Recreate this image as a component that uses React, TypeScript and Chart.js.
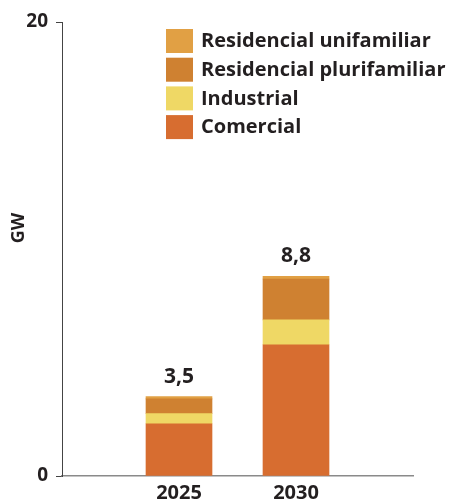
import React, { useEffect, useRef } from "react";
import { Chart, registerables } from "chart.js";

Chart.register(...registerables);

const years = ["2025", "2030"];
const comercial = [2.3, 5.78];
const industrial = [0.45, 1.1];
const plurifamiliar = [0.65, 1.8];
const unifamiliar = [0.1, 0.12];
const totalLabels = ["3,5", "8,8"];
const yTicks = [0, 20];
const yTitle = "GW";

const FONT = "'Open Sans', sans-serif";
const TEXT = "#231f20";

const seriesDefs = [
  { label: "Comercial", data: comercial, color: "#d76d30" },
  { label: "Industrial", data: industrial, color: "#efd865" },
  { label: "Residencial plurifamiliar", data: plurifamiliar, color: "#cf8131" },
  { label: "Residencial unifamiliar", data: unifamiliar, color: "#e1a044" },
];

const totalsPlugin = {
  id: "totals",
  afterDatasetsDraw(chart: any) {
    const ctx = chart.ctx;
    const last = chart.data.datasets.length - 1;
    const meta = chart.getDatasetMeta(last);
    ctx.save();
    ctx.font = `bold 21px ${FONT}`;
    ctx.fillStyle = TEXT;
    ctx.textAlign = "center";
    ctx.textBaseline = "alphabetic";
    meta.data.forEach((el: any, i: number) => {
      const lbl = totalLabels[i - 1];
      if (!lbl || el == null || isNaN(el.y)) return;
      ctx.fillText(lbl, el.x, el.y - 14);
    });
    ctx.restore();
  },
};

const legendPlugin = {
  id: "customLegend",
  afterDraw(chart: any) {
    const ctx = chart.ctx;
    const ds = [...chart.data.datasets].reverse();
    const x0 = 166;
    const y0 = 29;
    const step = 28.7;
    ctx.save();
    ctx.font = `bold 20px ${FONT}`;
    ctx.textBaseline = "middle";
    ctx.textAlign = "left";
    ds.forEach((d: any, i: number) => {
      const y = y0 + i * step;
      ctx.fillStyle = d.backgroundColor;
      ctx.fillRect(x0, y, 27, 24);
      ctx.fillStyle = TEXT;
      ctx.fillText(d.label, x0 + 35, y + 12.5);
    });
    // y-axis title
    ctx.save();
    ctx.translate(19, 228);
    ctx.rotate(-Math.PI / 2);
    ctx.textAlign = "center";
    ctx.font = `bold 18px ${FONT}`;
    ctx.fillText(yTitle, 0, 0);
    ctx.restore();
    ctx.restore();
  },
};

export default function App() {
  const ref = useRef<HTMLCanvasElement>(null);
  useEffect(() => {
    if (!ref.current) return;
    const labels = ["", ...years, ""];
    const chart = new Chart(ref.current, {
      type: "bar",
      data: {
        labels,
        datasets: seriesDefs.map((s) => ({
          label: s.label,
          data: [null, ...s.data, null] as any,
          backgroundColor: s.color,
          borderWidth: 0,
          barThickness: 66,
        })),
      },
      options: {
        animation: false,
        responsive: false,
        maintainAspectRatio: false,
        layout: { padding: { top: 22, right: 36, left: 0, bottom: 0 } },
        plugins: { legend: { display: false }, tooltip: { enabled: false } },
        scales: {
          x: {
            stacked: true,
            offset: false,
            grid: { display: false, drawTicks: false },
            border: { color: "#8a8a8a", width: 1.5 },
            ticks: {
              color: TEXT,
              font: { family: FONT, weight: "bold", size: 20 },
              padding: 5,
              maxRotation: 0,
              autoSkip: false,
            },
            afterFit(scale: any) {
              scale.height = 27;
            },
          },
          y: {
            stacked: true,
            min: 0,
            max: 20,
            afterBuildTicks(scale: any) {
              scale.ticks = yTicks.map((v) => ({ value: v }));
            },
            grid: { drawOnChartArea: false, drawTicks: true, tickLength: 6, color: "#444" },
            border: { color: "#444", width: 1 },
            ticks: {
              color: TEXT,
              font: { family: FONT, weight: "bold", size: 19 },
              padding: 8,
            },
            afterFit(scale: any) {
              scale.width = 62;
            },
          },
        },
      },
      plugins: [totalsPlugin, legendPlugin],
    });
    return () => chart.destroy();
  }, []);
  return (
    <div style={{ position: "fixed", left: 0, top: 0, width: 449, height: 503, background: "#fff" }}>
      <canvas ref={ref} width={449} height={503} style={{ width: 449, height: 503 }} />
    </div>
  );
}
